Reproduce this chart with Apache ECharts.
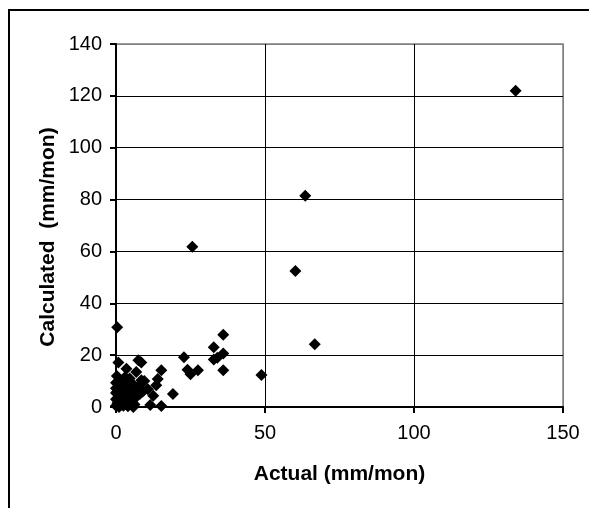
<!DOCTYPE html>
<html>
<head>
<meta charset="utf-8">
<script src="https://cdn.jsdelivr.net/npm/echarts@6/dist/echarts.min.js"></script>
<style>
html,body{margin:0;padding:0;background:#fff;}
#chart{width:589px;height:508px;}
</style>
</head>
<body>
<div id="chart"></div>
<script>
var xTitle = 'Actual (mm/mon)';
var yTitle = 'Calculated  (mm/mon)';
var xTicks = [0, 50, 100, 150];
var yTicks = [0, 20, 40, 60, 80, 100, 120, 140];

var actual = [134.1, 63.5, 25.6, 60.2, 66.7, 0.4, 36.0, 32.8, 36.0, 32.8, 34.0, 36.0, 22.8, 24.0, 25.0, 27.5, 48.8,
  0.8, 3.5, 7.5, 8.5, 15.2, 14.0, 13.5, 9.5, 6.8, 4.6, 19.1, 15.2, 11.5, 12.5, 10.7, 8.5, 5.8,
  0.0, 0.0, 0.0, 0.0, 0.0, 0.5, 1.0, 1.5, 2.0, 2.5, 3.0, 3.5, 4.0, 4.5, 5.0, 5.5, 6.0, 6.5, 7.0, 7.5, 8.0, 9.0,
  1.0, 2.5, 4.0, 1.8, 3.0, 0.3, 0.8, 2.0, 3.2, 5.2, 6.2, 1.2, 2.8, 4.2, 0.4, 1.6];
var calculated = [122.0, 81.5, 61.8, 52.5, 24.2, 30.8, 27.9, 23.0, 20.6, 18.3, 19.0, 14.2, 19.2, 14.4, 12.6, 14.2, 12.3,
  17.2, 14.8, 18.0, 17.2, 14.2, 10.8, 8.4, 10.0, 13.5, 11.0, 5.0, 0.4, 0.8, 4.3, 6.8, 10.3, 0.0,
  9.4, 7.2, 5.4, 3.0, 0.5, 1.5, 4.0, 6.5, 2.0, 8.5, 5.0, 1.0, 3.5, 7.0, 5.5, 9.0, 3.0, 6.0, 4.5, 8.0, 5.0, 6.0,
  0.0, 0.5, 0.3, 10.0, 11.5, 12.0, 2.5, 5.5, 7.5, 2.0, 1.0, 8.0, 3.5, 9.5, 6.0, 0.8];

var pts = actual.map(function (x, i) { return [x, calculated[i]]; });
var FONT = "'Liberation Sans', Arial, sans-serif";

var chart = echarts.init(document.getElementById('chart'), null, {renderer: 'canvas'});
chart.setOption({
  animation: false,
  backgroundColor: '#ffffff',
  grid: {left: 116, right: 26, top: 44, bottom: 101, show: true, borderColor: '#808080', borderWidth: 1.5, backgroundColor: 'transparent'},
  xAxis: {
    type: 'value', min: xTicks[0], max: xTicks[xTicks.length - 1], interval: 50,
    name: xTitle, nameLocation: 'middle', nameGap: 57,
    nameTextStyle: {fontFamily: FONT, fontSize: 21, fontWeight: 'bold', color: '#000'},
    axisLine: {show: true, onZero: false, lineStyle: {color: '#000', width: 2}},
    axisTick: {show: true, inside: false, length: 6, lineStyle: {color: '#000', width: 2}},
    axisLabel: {fontFamily: FONT, fontSize: 20, color: '#000', margin: 16},
    splitLine: {show: true, lineStyle: {color: ['#000', '#000', '#000', '#808080'], width: 1}}
  },
  yAxis: {
    type: 'value', min: yTicks[0], max: yTicks[yTicks.length - 1], interval: 20,
    axisLine: {show: true, onZero: false, lineStyle: {color: '#000', width: 2}},
    axisTick: {show: true, inside: false, length: 6, lineStyle: {color: '#000', width: 2}},
    axisLabel: {fontFamily: FONT, fontSize: 20, color: '#000', margin: 14},
    splitLine: {show: true, lineStyle: {color: ['#000', '#000', '#000', '#000', '#000', '#000', '#000', '#808080'], width: 1}}
  },
  graphic: [
    {type: 'text', x: 48, y: 237, rotation: Math.PI / 2,
     style: {text: yTitle, font: "bold 21px 'Liberation Sans', Arial, sans-serif", fill: '#000', textAlign: 'center', textVerticalAlign: 'middle'}},
    {type: 'polyline', shape: {points: [[9, 508], [9, 10], [589, 10]]}, style: {stroke: '#000', lineWidth: 2, fill: null}}
  ],
  series: [{
    type: 'scatter', data: pts, symbol: 'diamond', symbolSize: 12,
    itemStyle: {color: '#000', opacity: 1}
  }]
});
</script>
</body>
</html>
